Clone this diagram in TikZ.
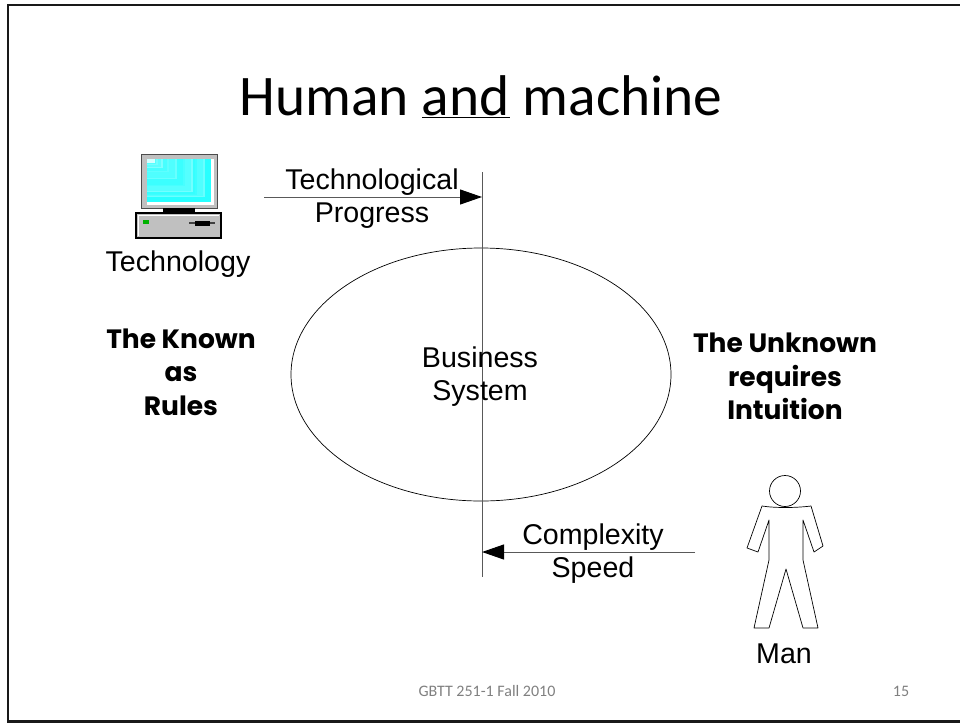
\documentclass[tikz,border=0pt]{standalone}
\usepackage{fontspec}
\setmainfont{Liberation Sans}
\newfontfamily\slidefont{Carlito}
\newfontfamily\boldfont{Poppins}
\usetikzlibrary{arrows.meta}
\definecolor{screenblue}{RGB}{40,255,255}
\definecolor{casegray}{RGB}{192,192,192}
\tikzset{
    label/.style={font=\fontsize{28.6}{33}\selectfont, align=center, inner sep=0pt},
    heavy/.style={font=\fontsize{26.5}{33.5}\selectfont\boldfont\bfseries, align=center, inner sep=0pt},
    foot/.style={font=\fontsize{16}{18}\selectfont\slidefont, text=black!50, inner sep=0pt},
    pointer/.style={-{Triangle[length=22pt,width=15pt,fill=black,color=black]}, line width=1pt, black!65}
}
\begin{document}
\begin{tikzpicture}[x=1pt, y=-1pt]
    \useasboundingbox (0,0) rectangle (960,723);

    % Slide frame
    \draw[line width=2.3pt, black!90] (965,5) -- (8,5) -- (8,721.5) -- (965,721.5);

    % Title
    \node[font=\fontsize{57.4}{60}\selectfont\slidefont, inner sep=0pt] (title) at (481,97) {Human \underline{and} machine};

    % Monitor
    \fill[casegray] (141,154) rectangle (217,208);
    \draw[line width=1pt, black!70] (141,154) rectangle (217,208);
    \fill[white] (147,159) rectangle (214,205);
    \fill[screenblue] (147,159) rectangle (211,202);
    \foreach \w/\h/\c in {58/38/30, 50/36/10, 46/33/35, 38/27/15, 30/20/30, 22/13/25, 16/9/40, 11/6/35, 7/4/60} {
        \fill[white!\c!screenblue] (147,159) rectangle ++(\w,\h);
        \fill[white!\c!screenblue!60!screenblue] (147,159) rectangle ++(\w-2,\h-1);
    }
    \fill[white!80!screenblue] (147,159) rectangle ++(8,4);
    \fill[black] (163,208) rectangle (195,212);

    % Base unit
    \fill[casegray] (136,213) rectangle (221,238);
    \draw[white, line width=1pt] (138,236) -- (138,215) -- (219,215);
    \draw[black, line width=1.5pt] (136,213) rectangle (221,238);
    \fill[green!70!black] (143,220) rectangle (149,224);
    \fill[black!75] (189,222) rectangle (215,224);
    \fill[black] (195,221) rectangle (210,226);

    % Man
    \draw[line width=0.7pt] (785,491) circle (15.5);
    \draw[line width=0.7pt, line join=round]
        (762,506) .. controls (775,508) and (795,508) .. (811,506) -- (823,546) -- (814,552) -- (803,520)
        -- (803,560) -- (818,628) -- (803,628) -- (786,569) -- (769,628) -- (754,628) -- (769,560)
        -- (769,520) -- (758,552) -- (747,548) -- cycle;

    % Business system
    \draw[line width=0.7pt] (481,374.5) ellipse (190 and 126.5);
    \coordinate (axistop) at (482,172);
    \coordinate (axisbottom) at (482,577);
    \draw[line width=1pt, black!65] (axistop) -- (axisbottom);
    \node[label] (business) at (480,377) {Business\\System};

    % Arrows
    \coordinate (techstart) at (264,197);
    \coordinate (techend) at (482,197);
    \draw[pointer] (techstart) -- (techend);
    \coordinate (manstart) at (695,552);
    \coordinate (manend) at (482,552);
    \draw[pointer] (manstart) -- (manend);

    % Labels
    \node[label] (progress) at (372,199) {Technological\\Progress};
    \node[label] (complexity) at (593,554) {Complexity\\Speed};
    \node[label] (technology) at (178,264) {Technology};
    \node[label] (man) at (784,654) {Man};
    \node[heavy] (known) at (181,372) {The Known\\as\\Rules};
    \node[heavy] (unknown) at (785,376.5) {The Unknown\\requires\\Intuition};

    % Footer
    \node[foot] (course) at (487,691) {GBTT 251-1 Fall 2010};
    \node[foot] (page) at (901,691) {15};

\end{tikzpicture}
\end{document}
